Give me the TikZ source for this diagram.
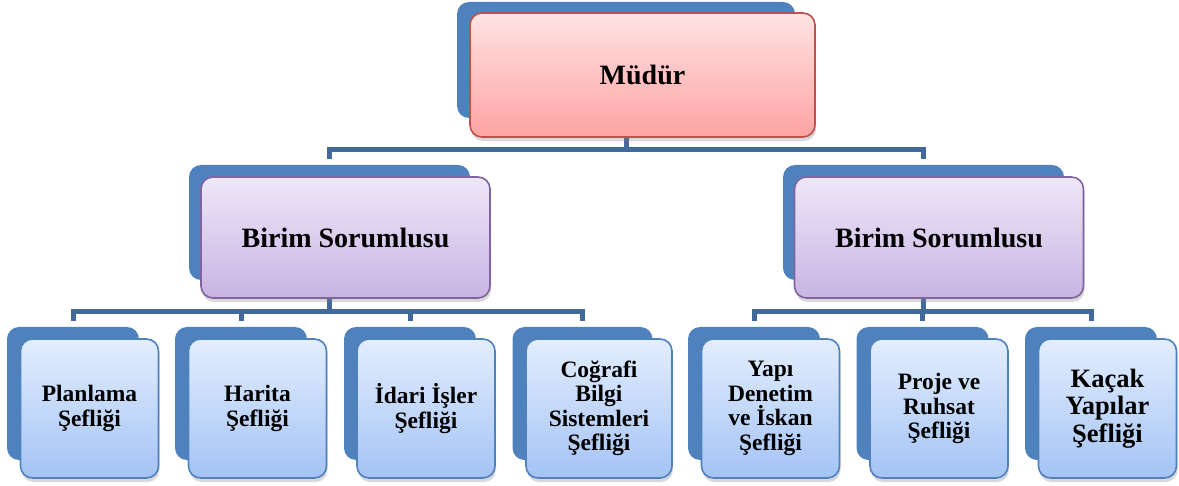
\documentclass[tikz,border=0pt]{standalone}
\usepackage{fontspec}
\setmainfont{Liberation Serif}
\usetikzlibrary{shadows}

\definecolor{accentblue}{HTML}{4F81BD}
\definecolor{busblue}{HTML}{41699C}
\definecolor{redline}{HTML}{C0504D}
\definecolor{violetline}{HTML}{8064A2}
\definecolor{headtop}{HTML}{FFE3E3}
\definecolor{headbottom}{HTML}{FFA3A3}
\definecolor{unittop}{HTML}{EEE7F8}
\definecolor{unitbottom}{HTML}{C8B4E2}
\definecolor{chieftop}{HTML}{E3EEFD}
\definecolor{chiefbottom}{HTML}{A4C3F5}

\tikzset{
  backbox/.style = {fill = accentblue, rounded corners = 12pt, inner sep = 0pt},
  frontbox/.style = {draw, line width = 1.6pt, rounded corners = 12pt, inner sep = 0pt,
    align = center, font = \bfseries,
    drop shadow = {opacity = 0.3, shadow xshift = 1pt, shadow yshift = -4pt}},
  headbox/.style = {frontbox, draw = redline, top color = headtop, bottom color = headbottom,
    minimum width = 345pt, minimum height = 124pt, font = \bfseries\fontsize{28}{30}\selectfont},
  unitbox/.style = {frontbox, draw = violetline, top color = unittop, bottom color = unitbottom,
    minimum width = 289pt, minimum height = 121pt, font = \bfseries\fontsize{28}{30}\selectfont},
  chiefbox/.style = {frontbox, draw = accentblue, top color = chieftop, bottom color = chiefbottom,
    minimum width = 138pt, minimum height = 139pt, font = \bfseries\fontsize{23.5}{24.5}\selectfont},
  bus/.style = {draw = busblue, line width = 5pt, shorten > = 6pt}
}

\begin{document}
\begin{tikzpicture}[x = 1pt, y = -1pt]
\useasboundingbox (0,0) rectangle (1179,486);

% back plates
\node[backbox, minimum width = 338pt, minimum height = 116pt] (mudurb) at (626,60) {};
\node[backbox, minimum width = 281pt, minimum height = 115pt] (birimab) at (329.5,222.5) {};
\node[backbox, minimum width = 281pt, minimum height = 115pt] (birimbb) at (923.5,222.5) {};
\node[backbox, minimum width = 132pt, minimum height = 133pt] (planb) at (73,393.5) {};
\node[backbox, minimum width = 132pt, minimum height = 133pt] (haritab) at (241,393.5) {};
\node[backbox, minimum width = 132pt, minimum height = 133pt] (idarib) at (410,393.5) {};
\node[backbox, minimum width = 140pt, minimum height = 133pt] (cbsb) at (582.5,393.5) {};
\node[backbox, minimum width = 132pt, minimum height = 133pt] (yapib) at (754,393.5) {};
\node[backbox, minimum width = 132pt, minimum height = 133pt] (projeb) at (922.5,393.5) {};
\node[backbox, minimum width = 132pt, minimum height = 133pt] (kacakb) at (1091,393.5) {};

% connectors
\draw[bus] (mudurb.south) -- ++(0,31) -| (birimab.north);
\draw[bus] (mudurb.south) -- ++(0,31) -| (birimbb.north);
\foreach \c in {planb, haritab, idarib, cbsb}
  \draw[bus] (birimab.south) -- ++(0,31.5) -| (\c.north);
\foreach \c in {yapib, projeb, kacakb}
  \draw[bus] (birimbb.south) -- ++(0,31.5) -| (\c.north);

% boxes
\node[headbox] (mudur) at (642.5,75) {Müdür};
\node[unitbox] (birima) at (345.5,237.5) {Birim Sorumlusu};
\node[unitbox] (birimb) at (939,237.5) {Birim Sorumlusu};
\node[chiefbox] (plan) at (89.5,408.5) {Planlama\\Şefliği};
\node[chiefbox] (harita) at (257.5,408.5) {Harita\\Şefliği};
\node[chiefbox] (idari) at (426,408.5) {İdari İşler\\Şefliği};
\node[chiefbox, minimum width = 146pt] (cbs) at (599,408.5) {Coğrafi\\Bilgi\\Sistemleri\\Şefliği};
\node[chiefbox] (yapi) at (770.5,408.5) {Yapı\\Denetim\\ve İskan\\Şefliği};
\node[chiefbox] (proje) at (939,408.5) {Proje ve\\Ruhsat\\Şefliği};
\node[chiefbox, font = \bfseries\fontsize{26.5}{27.5}\selectfont] (kacak) at (1107.5,408.5) {Kaçak\\Yapılar\\Şefliği};
\end{tikzpicture}
\end{document}
